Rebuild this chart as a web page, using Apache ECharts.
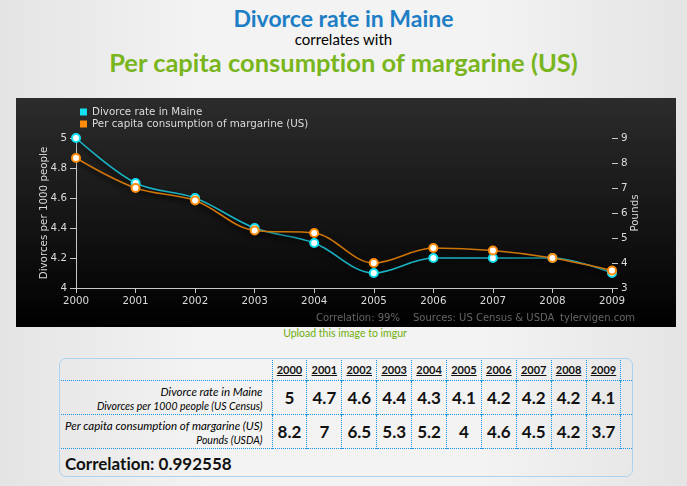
<!DOCTYPE html>
<html>
<head>
<meta charset="utf-8">
<title>Divorce rate in Maine correlates with Per capita consumption of margarine (US)</title>
<script src="https://cdn.jsdelivr.net/npm/echarts@6/dist/echarts.min.js"></script>
<style>
  html, body { margin: 0; padding: 0; }
  body {
    width: 687px; height: 486px; position: relative; overflow: hidden;
    background: linear-gradient(to right, #e4e4e4 0%, #f3f3f3 30%, #f3f3f3 70%, #e4e4e4 100%);
    font-family: Lato, "DejaVu Sans", sans-serif;
    font-variant-ligatures: none;
  }
  .ttl { position: absolute; left: 0; width: 687px; text-align: center; white-space: nowrap; }
  #t1 { top: 7px; font-size: 23px; line-height: 23px; font-weight: bold; color: #1d7ec6; }
  #t2 { top: 32px; font-size: 15px; line-height: 15px; color: #000; }
  #t3 { top: 50px; font-size: 25.5px; line-height: 25px; font-weight: bold; color: #79b51c; }
  #chart { position: absolute; left: 16px; top: 98px; width: 660px; height: 229px; }
  #upload { position: absolute; left: 0; width: 690px; top: 327px; text-align: center; font-size: 10.5px; color: #6fae0c; }
  #box {
    position: absolute; left: 59px; top: 358px; width: 572px; height: 117px;
    border: 1px solid #a9d3f1; border-radius: 7px; overflow: hidden;
  }
  #tbl { border-collapse: collapse; table-layout: fixed; width: 573px; margin: -1px 0 0 -1px; }
  #tbl td { border-top: 1px dotted #1a94e0; padding: 0; text-align: center; color: #111; }
  #tbl td.c { border-right: 1px dotted #1a94e0; }
  #tbl tr.hd td { height: 21px; font-size: 11px; font-weight: bold; }
  #tbl tr.hd td span { text-decoration: underline; }
  #tbl tr.row td { height: 33px; font-size: 17px; font-weight: bold; }
  #tbl tr.row td.lbl { text-align: right; padding-right: 9px; font-style: italic; font-weight: normal; line-height: 12px; color: #000; }
  #tbl td.lbl .a { font-size: 11.5px; }
  #tbl td.lbl .b { font-size: 10.5px; }
  #tbl tr.cor td { height: 28px; text-align: left; padding-left: 6px; font-size: 17px; font-weight: bold; }
</style>
</head>
<body>
<div class="ttl" id="t1">Divorce rate in Maine</div>
<div class="ttl" id="t2">correlates with</div>
<div class="ttl" id="t3">Per capita consumption of margarine (US)</div>
<div id="chart"></div>
<div id="upload">Upload this image to imgur</div>
<div id="box"><table id="tbl"></table></div>
<script>
// data
const years = ['2000', '2001', '2002', '2003', '2004', '2005', '2006', '2007', '2008', '2009'];
const divorceRate = [5, 4.7, 4.6, 4.4, 4.3, 4.1, 4.2, 4.2, 4.2, 4.1];
const margarine = [8.2, 7, 6.5, 5.3, 5.2, 4, 4.6, 4.5, 4.2, 3.7];
const seriesNames = ['Divorce rate in Maine', 'Per capita consumption of margarine (US)'];
const rowLabels = [
  ['Divorce rate in Maine', 'Divorces per 1000 people (US Census)'],
  ['Per capita consumption of margarine (US)', 'Pounds (USDA)']
];
const correlationText = 'Correlation: 0.992558';
const footTexts = ['Correlation: 99%', 'Sources: US Census & USDA', 'tylervigen.com'];

const FONT = '"DejaVu Sans", sans-serif';
const txt = '#dcdcdc';

// table under the chart
function buildTable() {
  let html = '<colgroup><col style="width:213px">';
  for (let i = 0; i < years.length; i++) html += '<col style="width:34.9px">';
  html += '<col style="width:11px"></colgroup>';
  html += '<tr class="hd"><td class="c"></td>';
  years.forEach(y => { html += '<td class="c"><span>' + y + '</span></td>'; });
  html += '<td></td></tr>';
  [divorceRate, margarine].forEach((vals, r) => {
    html += '<tr class="row"><td class="c lbl"><span class="a">' + rowLabels[r][0] +
      '</span><br><span class="b">' + rowLabels[r][1] + '</span></td>';
    vals.forEach(v => { html += '<td class="c">' + v + '</td>'; });
    html += '<td></td></tr>';
  });
  html += '<tr class="cor"><td colspan="' + (years.length + 2) + '">' + correlationText + '</td></tr>';
  document.getElementById('tbl').innerHTML = html;
}
buildTable();

const myChart = echarts.init(document.getElementById('chart'));

const lineShadow = { shadowColor: 'rgba(0,0,0,0.95)', shadowBlur: 5, shadowOffsetY: 3 };

const option = {
  animation: false,
  backgroundColor: new echarts.graphic.LinearGradient(0, 0, 0, 1, [
    { offset: 0, color: '#2c2c2c' },
    { offset: 1, color: '#000000' }
  ]),
  textStyle: { fontFamily: FONT },
  legend: {
    left: 59, top: 3, orient: 'vertical', icon: 'rect',
    itemWidth: 7, itemHeight: 7, itemGap: 0,
    textStyle: { color: txt, fontSize: 10.3, fontFamily: FONT, lineHeight: 12 },
    data: [
      { name: seriesNames[0], itemStyle: { color: '#12e0f2', borderWidth: 0 } },
      { name: seriesNames[1], itemStyle: { color: '#ff8c0a', borderWidth: 0 } }
    ]
  },
  grid: { left: 60, right: 64, top: 40, bottom: 39 },
  xAxis: {
    type: 'category', data: years, boundaryGap: false,
    axisLine: { lineStyle: { color: '#c8c8c8' } },
    axisTick: { alignWithLabel: true, length: 5, lineStyle: { color: '#c8c8c8' } },
    axisLabel: { color: txt, fontSize: 10.3, margin: 8 }
  },
  yAxis: [{
    type: 'value', min: 4, max: 5, interval: 0.2,
    name: 'Divorces per 1000 people', nameLocation: 'middle', nameRotate: 90, nameGap: 27,
    nameMoveOverlap: false,
    nameTextStyle: { color: txt, fontSize: 10.3 },
    splitLine: { show: false },
    axisLine: { show: true, lineStyle: { color: '#c8c8c8' } },
    axisTick: { show: true, length: 6, lineStyle: { color: '#c8c8c8' } },
    axisLabel: { color: txt, fontSize: 10.3, margin: 9 }
  }, {
    type: 'value', min: 3, max: 9, interval: 1, position: 'right',
    name: 'Pounds', nameLocation: 'middle', nameRotate: 90, nameGap: 18,
    nameMoveOverlap: false,
    nameTextStyle: { color: txt, fontSize: 10.3 },
    splitLine: { show: false },
    axisLine: { show: false },
    axisTick: { show: true, length: 6, lineStyle: { color: '#c8c8c8' } },
    axisLabel: { color: txt, fontSize: 10.3, margin: 9 }
  }],
  series: [{
    name: seriesNames[0], type: 'line', yAxisIndex: 0, data: divorceRate,
    smooth: 0.35, symbol: 'circle', symbolSize: 8,
    lineStyle: Object.assign({ color: '#1bb4c6', width: 1.6 }, lineShadow),
    itemStyle: { color: '#ffffff', borderColor: '#12e0f2', borderWidth: 2 }
  }, {
    name: seriesNames[1], type: 'line', yAxisIndex: 1, data: margarine,
    smooth: 0.35, symbol: 'circle', symbolSize: 8,
    lineStyle: Object.assign({ color: '#cc7408', width: 1.6 }, lineShadow),
    itemStyle: { color: '#ffffff', borderColor: '#ff8c0a', borderWidth: 2 }
  }],
  graphic: [
    { type: 'text', x: 300, y: 220, silent: true,
      style: { text: footTexts[0], fill: '#666666', fontSize: 10, fontFamily: FONT, verticalAlign: 'middle' } },
    { type: 'text', x: 397, y: 220, silent: true,
      style: { text: footTexts[1], fill: '#666666', fontSize: 10, fontFamily: FONT, verticalAlign: 'middle' } },
    { type: 'text', x: 619, y: 220, silent: true,
      style: { text: footTexts[2], fill: '#666666', fontSize: 10, fontFamily: FONT, align: 'right', verticalAlign: 'middle' } }
  ]
};

myChart.setOption(option);
</script>
</body>
</html>
